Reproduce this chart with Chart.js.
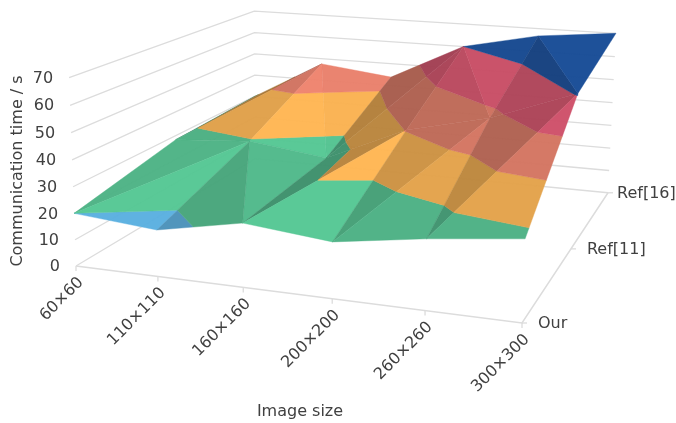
<!DOCTYPE html>
<html><head><meta charset="utf-8">
<style>html,body{margin:0;padding:0;background:#fff}#wrap{width:676px;height:423px;position:relative}</style>
<script src="https://cdn.jsdelivr.net/npm/chart.js@4/dist/chart.umd.min.js"></script>
</head><body><div id="wrap"><canvas id="c" width="676" height="423"></canvas></div>
<script>
const categories = ['60×60','110×110','160×160','200×200','260×260','300×300'];
const series = ['Our','Ref[11]','Ref[16]'];
const valuesOur   = [20, 17.35, 23.5, 20.4, 25.2, 28.9];
const valuesRef11 = [28.3, 30.6, 26.6, 40.9, 48.4, 60.5];
const valuesRef16 = [30, 47.6, 43.9, 60, 66.8, 70];
const zTicks = [0,10,20,30,40,50,60,70];
const bandLimits = [0,20,31,40.6,50.3,60,70];
const bandColors = [[90,176,224],[85,199,148],[255,182,83],[238,131,109],[232,90,118],[26,84,168]];

const grid = [valuesOur, valuesRef11, valuesRef16];

// Camera: projective map from (u,v,z) to page coordinates
const cam = {a:393.8,b:253.15,c:76,d:24.7,e:-61.5,f:266,g:-0.10,h:0.289,k:-9,l:-190.6,m:-0.03};
function project(i,j,z){
  const u=i/5, v=j/2, t=z/70;
  const w=1+cam.g*u+cam.h*v+cam.m*t;
  return {x:(cam.a*u+cam.b*v+cam.c+cam.k*t)/w, y:(cam.d*u+cam.e*v+cam.f+cam.l*t)/w};
}
// Triangles of the surface mesh, back to front: [i,j] corners and a light factor
const tris = [
 [[0,1],[1,2],[0,2],.65],[[0,1],[1,1],[1,2],.88],
 [[1,1],[2,1],[1,2],1],[[2,1],[2,2],[1,2],.98],
 [[2,1],[3,2],[2,2],.70],[[2,1],[3,1],[3,2],.73],
 [[3,1],[4,1],[3,2],.80],[[3,2],[4,2],[4,1],.86],
 [[4,1],[4,2],[5,1],.75],[[4,2],[5,2],[5,1],.89],
 [[0,0],[1,1],[0,1],.9],[[0,0],[1,0],[1,1],1],
 [[2,0],[2,1],[1,1],.93],[[1,0],[2,0],[1,1],.83],
 [[2,0],[3,1],[2,1],.72],[[2,0],[3,0],[3,1],1],
 [[3,0],[3,1],[4,1],.80],[[3,0],[4,0],[4,1],.89],
 [[4,0],[4,1],[5,1],.74],[[4,0],[5,0],[5,1],.89]
];
function clip(poly,z0,keepAbove){
  const out=[];
  for(let n=0;n<poly.length;n++){
    const p=poly[n],q=poly[(n+1)%poly.length];
    const pin=keepAbove?p[2]>=z0:p[2]<=z0, qin=keepAbove?q[2]>=z0:q[2]<=z0;
    if(pin)out.push(p);
    if(pin!==qin){const s=(z0-p[2])/(q[2]-p[2]);out.push([p[0]+s*(q[0]-p[0]),p[1]+s*(q[1]-p[1]),z0]);}
  }
  return out;
}
const datasets=[];
function addLine(pts,color,width){
  datasets.push({type:'scatter',showLine:true,data:pts,borderColor:color,borderWidth:width,pointRadius:0,fill:false,tension:0});
}
const gridColor='#dcdcdc';
zTicks.forEach(z=>addLine([project(0,0,z),project(0,2,z),project(5,2,z)],gridColor,1.3));
addLine([project(0,0,0),project(5,0,0),project(5,2,0)],gridColor,1.5);
categories.forEach((c,i)=>{const p=project(i,0,0);addLine([p,{x:p.x,y:p.y+5}],gridColor,1.3);});
series.forEach((s,j)=>{const p=project(5,j,0);addLine([p,{x:p.x+5,y:p.y}],gridColor,1.3);});
tris.forEach(t=>{
  const poly=t.slice(0,3).map(c=>[c[0],c[1],grid[c[1]][c[0]]]);
  bandColors.forEach((col,b)=>{
    let p=clip(poly,bandLimits[b],true); if(p.length<3)return;
    p=clip(p,bandLimits[b+1],false); if(p.length<3)return;
    const f=t[3], rgb=`rgba(${col.map(v=>Math.round(v*f)).join(',')},0.97)`;
    const pts=p.map(q=>project(q[0],q[1],q[2])); pts.push(pts[0]);
    datasets.push({type:'scatter',showLine:true,data:pts,backgroundColor:rgb,borderColor:rgb,borderWidth:0.4,pointRadius:0,fill:'shape',tension:0});
  });
});
// Chart.js paints the first dataset last, so give explicit paint order
datasets.forEach((d,n)=>{d.order=datasets.length-n;});
const textColor='#404040', fontFamily='"DejaVu Sans"';
const labels={id:'labels',afterDatasetsDraw(ch){
  const X=ch.scales.x,Y=ch.scales.y,ctx=ch.ctx;
  const px=p=>({x:X.getPixelForValue(p.x),y:Y.getPixelForValue(p.y)});
  ctx.save();ctx.fillStyle=textColor;ctx.font='16px '+fontFamily;ctx.textBaseline='middle';
  ctx.textAlign='right';
  zTicks.forEach(z=>{const p=px(project(0,0,z));ctx.fillText(String(z),p.x-16,p.y+1);});
  ctx.textAlign='left';
  const seriesGap=[16,16,9];
  series.forEach((s,j)=>{const p=px(project(5,j,0));ctx.fillText(s,p.x+seriesGap[j],p.y+1);});
  categories.forEach((c,i)=>{const p=px(project(i,0,0));ctx.save();ctx.translate(p.x+5,p.y+14);ctx.rotate(-Math.PI/4);ctx.textAlign='right';ctx.fillText(c,0,0);ctx.restore();});
  ctx.textAlign='center';
  ctx.fillText('Image size',300,412);
  ctx.save();ctx.translate(18,171);ctx.rotate(-Math.PI/2);ctx.fillText('Communication time / s',0,0);ctx.restore();
  ctx.restore();
}};
new Chart(document.getElementById('c'),{type:'scatter',data:{datasets},plugins:[labels],options:{
  responsive:false,animation:false,layout:{padding:0},
  plugins:{legend:{display:false},tooltip:{enabled:false},title:{display:false}},
  scales:{x:{type:'linear',min:0,max:676,display:false},y:{type:'linear',min:0,max:423,reverse:true,display:false}}
}});
</script></body></html>
